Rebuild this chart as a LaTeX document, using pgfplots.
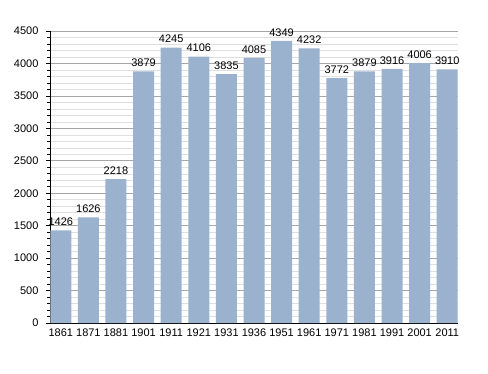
\documentclass[border=0pt]{standalone}
\usepackage{pgfplots}
\pgfplotsset{compat=1.18}
\usepackage{fontspec}
\setmainfont{Liberation Sans}
\definecolor{barc}{RGB}{154,178,206}
\begin{document}
\begin{tikzpicture}[x=1pt,y=1pt]
\path (0,0) rectangle (488,373);
\begin{axis}[
  at={(50pt,50pt)}, anchor=south west,
  scale only axis, width=408pt, height=292pt,
  ymin=0, ymax=4500,
  xmin=-0.39, xmax=14.39,
  axis x line*=bottom, axis y line*=left,
  axis line style={black, line width=0.9pt},
  xtick=data,
  xticklabels={1861,1871,1881,1901,1911,1921,1931,1936,1951,1961,1971,1981,1991,2001,2011},
  x tick style={draw=none},
  ytick={0,500,...,4500},
  minor y tick num=4,
  ytick style={black, line width=0.6pt},
  tick align=outside,
  major tick length=4pt, minor tick length=2.5pt,
  ymajorgrids, yminorgrids,
  major grid style={gray!70, line width=0.6pt},
  minor grid style={gray!25, line width=0.5pt},
  tick label style={font=\fontsize{11}{13}\selectfont},
  /pgf/number format/assume math mode=true,
  /pgf/number format/1000 sep={},
  yticklabel style={xshift=-4pt},
  xticklabel style={yshift=2pt},
  nodes near coords,
  every node near coord/.style={font=\fontsize{11}{13}\selectfont, black, yshift=1pt},
  clip=false,
]
\addplot[ybar, bar width=21pt, fill=barc, draw=none, bar shift=0pt] coordinates {
(0,1426) (1,1626) (2,2218) (3,3879) (4,4245) (5,4106) (6,3835) (7,4085)
(8,4349) (9,4232) (10,3772) (11,3879) (12,3916) (13,4006) (14,3910)};
\end{axis}
\end{tikzpicture}
\end{document}
